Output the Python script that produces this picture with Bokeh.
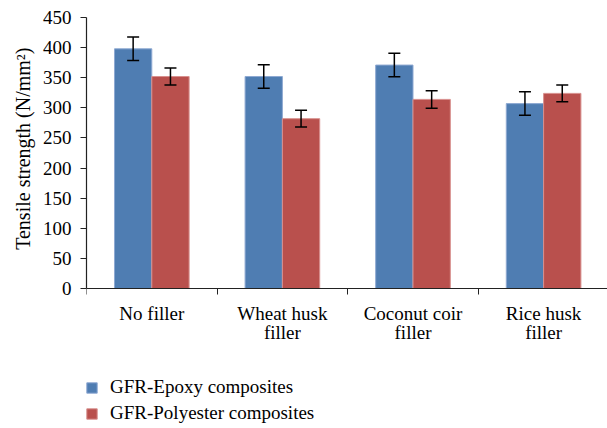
from bokeh.plotting import figure
from bokeh.models import (Range1d, LinearAxis, FixedTicker, Whisker, TeeHead,
                          ColumnDataSource, Legend, LegendItem, Title)
from bokeh.embed import file_html
from bokeh.resources import INLINE

# ---- data ----
categories = ["No filler", "Wheat husk\nfiller", "Coconut coir\nfiller", "Rice husk\nfiller"]
series_names = ["GFR-Epoxy composites", "GFR-Polyester composites"]
epoxy = [398, 352, 371, 307]
epoxy_err = [19.5, 19.5, 19.5, 19.5]
polyester = [352, 282, 314, 324]
polyester_err = [14, 14, 14.5, 14]
y_ticks = [0, 50, 100, 150, 200, 250, 300, 350, 400, 450]
y_title = "Tensile strength (N/mm\u00b2)"

colors = ["#4F7DB2", "#B9504D"]
edge_colors = ["#8EA9D2", "#D8908E"]
FONT = "Liberation Serif"

W, H = 607, 428
left, top = 86, 17
cat_px = 130.6
plot_h = 271.0
y_px = plot_h / 450.0
x_end = (W - left) / cat_px
y_start = -(H - (top + plot_h)) / y_px

bar_w = 1 / 3.5

p = figure(width=W, height=H, x_range=Range1d(0, x_end), y_range=Range1d(y_start, 450),
           x_axis_location=None, toolbar_location=None, output_backend="svg",
           min_border_left=left, min_border_top=top, min_border_right=0, min_border_bottom=0)
p.outline_line_color = None
p.xgrid.visible = False
p.ygrid.visible = False
p.background_fill_color = "white"

renderers = []
for k, (vals, errs) in enumerate([(epoxy, epoxy_err), (polyester, polyester_err)]):
    xs = [i + 0.5 + (k - 0.5) * bar_w for i in range(len(categories))]
    src = ColumnDataSource(dict(x=xs, top=vals,
                                upper=[v + e for v, e in zip(vals, errs)],
                                lower=[v - e for v, e in zip(vals, errs)]))
    r = p.vbar(x="x", top="top", bottom=0, width=bar_w, source=src,
               fill_color=colors[k], line_color=edge_colors[k], line_width=1)
    renderers.append(r)
    wh = Whisker(base="x", upper="upper", lower="lower", source=src,
                 line_color="black", line_width=1.5, level="overlay",
                 upper_head=TeeHead(size=12, line_color="black", line_width=1.5),
                 lower_head=TeeHead(size=12, line_color="black", line_width=1.5))
    p.add_layout(wh)

# y axis
ya = p.yaxis[0]
ya.ticker = FixedTicker(ticks=y_ticks)
ya.bounds = (0, 450)
ya.axis_line_color = "#222222"
ya.axis_line_width = 1.2
ya.major_tick_line_color = "#222222"
ya.major_tick_out = 6
ya.major_tick_in = 0
ya.minor_tick_line_color = None
ya.major_label_standoff = 9
ya.major_label_text_font = FONT
ya.major_label_text_font_size = "19px"
ya.major_label_text_color = "black"

# y axis title placed along the 0-450 span of the axis
ytitle = Title(text=y_title, align="right", offset=30, standoff=12,
               text_font=FONT, text_font_size="20px", text_font_style="normal",
               text_color="black")
p.add_layout(ytitle, "left")

# x axis at y = 0
centers = [i + 0.5 for i in range(len(categories))]
xa = LinearAxis(fixed_location=0,
                ticker=FixedTicker(ticks=centers, minor_ticks=list(range(len(categories)))),
                major_label_overrides={c: lab for c, lab in zip(centers, categories)})
xa.axis_line_color = "#222222"
xa.axis_line_width = 1.2
xa.major_tick_line_color = None
xa.major_tick_out = 6
xa.major_tick_in = 0
xa.minor_tick_line_color = "#222222"
xa.minor_tick_out = 6
xa.minor_tick_in = 0
xa.major_label_standoff = 8
xa.major_label_text_font = FONT
xa.major_label_text_font_size = "19px"
xa.major_label_text_color = "black"
xa.major_label_text_line_height = 0.95
p.add_layout(xa, "below")

legend = Legend(items=[LegendItem(label=series_names[k], renderers=[renderers[k]]) for k in range(2)],
                location=(-1, 4), orientation="vertical")
legend.label_text_font = FONT
legend.label_text_font_size = "19px"
legend.label_text_color = "black"
legend.glyph_width = 13
legend.glyph_height = 13
legend.label_standoff = 12
legend.spacing = 4
legend.padding = 0
legend.margin = 0
legend.border_line_color = None
legend.background_fill_alpha = 0
p.add_layout(legend)

open("out.html", "w").write(file_html(p, INLINE))
